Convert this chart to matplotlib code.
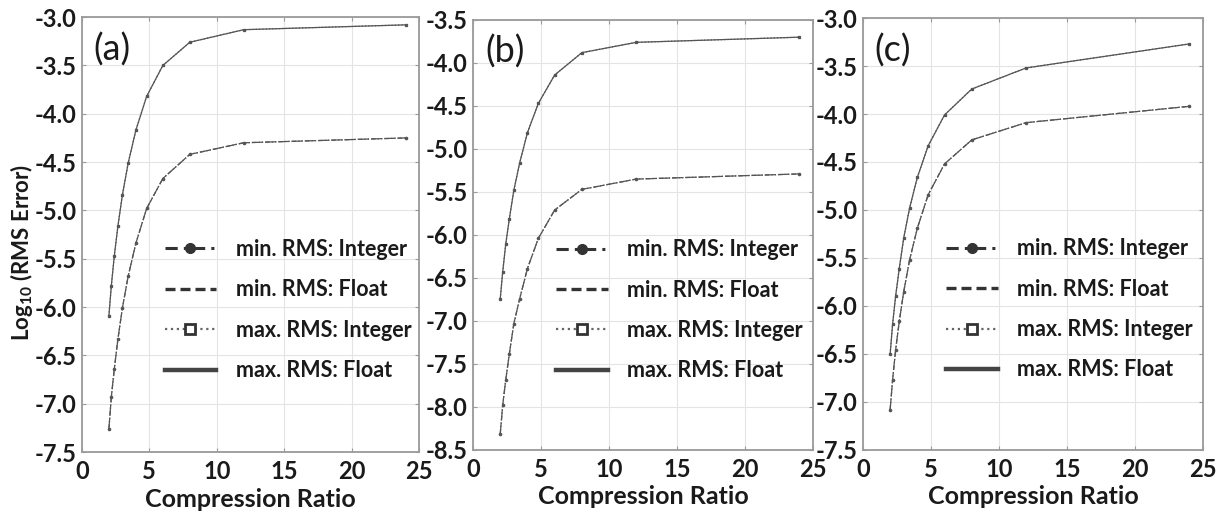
import matplotlib
matplotlib.use("Agg")
import matplotlib.pyplot as plt
from matplotlib.lines import Line2D

plt.rcParams['font.family'] = ['Lato', 'DejaVu Sans']
plt.rcParams['mathtext.default'] = 'regular'

# Compression ratios (24/n)
ratios = [2.0, 2.18, 2.4, 2.67, 3.0, 3.43, 4.0, 4.8, 6.0, 8.0, 12.0, 24.0]

# Panel (a)
a_max = [-6.09, -5.78, -5.47, -5.16, -4.84, -4.51, -4.17, -3.82, -3.50, -3.26, -3.13, -3.08]
a_min = [-7.26, -6.93, -6.64, -6.33, -6.01, -5.68, -5.34, -4.98, -4.67, -4.42, -4.30, -4.25]
# Panel (b)
b_max = [-6.74, -6.43, -6.11, -5.81, -5.48, -5.16, -4.81, -4.47, -4.14, -3.88, -3.76, -3.70]
b_min = [-8.31, -7.98, -7.69, -7.38, -7.03, -6.74, -6.39, -6.04, -5.71, -5.47, -5.35, -5.29]
# Panel (c)
c_max = [-6.50, -6.19, -5.90, -5.61, -5.29, -4.98, -4.66, -4.33, -4.01, -3.74, -3.52, -3.27]
c_min = [-7.08, -6.77, -6.46, -6.16, -5.85, -5.52, -5.19, -4.84, -4.52, -4.27, -4.09, -3.92]

panel_labels = ['(a)', '(b)', '(c)']
ylims = [(-7.5, -3.0), (-8.5, -3.5), (-7.5, -3.0)]
legend_labels = ['min. RMS: Integer', 'min. RMS: Float', 'max. RMS: Integer', 'max. RMS: Float']
xticks = [0, 5, 10, 15, 20, 25]

panels = [(a_min, a_max), (b_min, b_max), (c_min, c_max)]
positions = [
    [0.067, 0.129, 0.2756, 0.838],
    [0.3868, 0.133, 0.278, 0.8285],
    [0.7056, 0.133, 0.278, 0.8323],
]

fig = plt.figure(figsize=(12.23, 5.19), dpi=100)
line_col = '#555555'
txt_col = '#1a1a1a'

for i, ((ymin, ymax), pos) in enumerate(zip(panels, positions)):
    ax = fig.add_axes(pos)
    # min RMS: Integer / Float (overlapping)
    ax.plot(ratios, ymin, linestyle='-.', color=line_col, lw=0.9, marker='o', ms=1.6, zorder=3)
    ax.plot(ratios, ymin, linestyle='--', color=line_col, lw=0.9, zorder=3)
    # max RMS: Integer / Float (overlapping)
    ax.plot(ratios, ymax, linestyle=':', color=line_col, lw=0.9, marker='s', ms=1.4, zorder=3)
    ax.plot(ratios, ymax, linestyle='-', color=line_col, lw=0.9, zorder=3)

    lo, hi = ylims[i]
    ax.set_xlim(0, 25)
    ax.set_ylim(lo, hi)
    ax.set_xticks(xticks)
    yt = [lo + 0.5 * k for k in range(int(round((hi - lo) / 0.5)) + 1)]
    ax.set_yticks(yt)
    ax.set_yticklabels(['%.1f' % v for v in yt])
    ax.grid(True, color='#e4e4e4', lw=0.8, zorder=0)
    for sp in ax.spines.values():
        sp.set_color('#9a9a9a')
        sp.set_linewidth(1.3)
    ax.tick_params(direction='in', length=3, color='#9a9a9a', top=True, right=True,
                   labelsize=17)
    ax.tick_params(axis='x', pad=6)
    ax.tick_params(axis='y', pad=4)
    for lab in ax.get_xticklabels() + ax.get_yticklabels():
        lab.set_fontweight('bold')
        lab.set_color(txt_col)
    ax.set_xlabel('Compression Ratio', fontsize=18, fontweight='bold', labelpad=3, color=txt_col)
    if i == 0:
        ax.set_ylabel('Log$_{10}$ (RMS Error)', fontsize=16, fontweight='bold', color=txt_col)
        ax.yaxis.set_label_coords(-0.14, 0.46)
    ax.text(0.035, 0.965, panel_labels[i], transform=ax.transAxes, fontsize=26,
            va='top', ha='left', color=txt_col)

    handles = [
        Line2D([0], [0], linestyle=(0, (4, 2, 1, 2)), color='#333333', lw=2.2, marker='o', ms=7),
        Line2D([0], [0], linestyle=(0, (3, 1.5)), color='#333333', lw=2.4),
        Line2D([0], [0], linestyle=':', color='#666666', lw=1.6, marker='s', ms=7,
               markerfacecolor='white', markeredgecolor='#333333', markeredgewidth=2),
        Line2D([0], [0], linestyle='-', color='#444444', lw=3.2),
    ]
    leg = ax.legend(handles, legend_labels, loc='upper left', bbox_to_anchor=(0.245, 0.49),
                    frameon=False, borderpad=0, borderaxespad=0, handlelength=2.4,
                    handletextpad=0.9, labelspacing=0.9,
                    prop={'size': 15.5, 'weight': 'bold'})
    for t in leg.get_texts():
        t.set_color(txt_col)

fig.savefig('out.png', dpi=100)
